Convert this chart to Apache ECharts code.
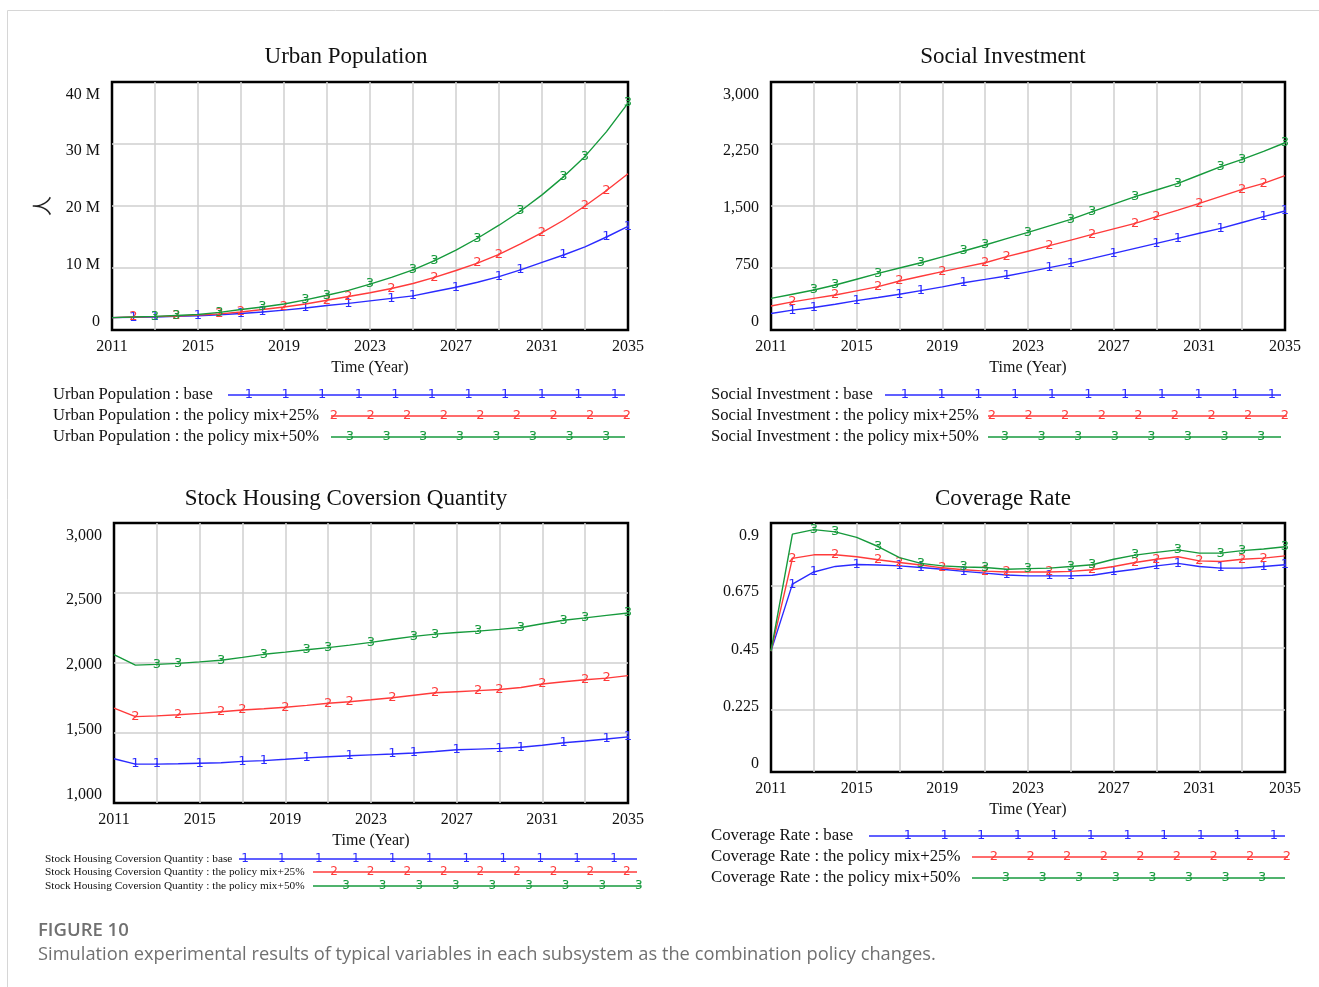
<!DOCTYPE html>
<html>
<head>
<meta charset="utf-8">
<script src="https://cdn.jsdelivr.net/npm/echarts@6/dist/echarts.min.js"></script>
<style>
  html, body { margin: 0; padding: 0; background: #fff; }
  #chart { width: 1319px; height: 987px; }
</style>
</head>
<body>
<div id="chart"></div>
<script>
// Simulation years
const years = [2011, 2012, 2013, 2014, 2015, 2016, 2017, 2018, 2019, 2020, 2021, 2022, 2023,
               2024, 2025, 2026, 2027, 2028, 2029, 2030, 2031, 2032, 2033, 2034, 2035];
const scenarios = ['base', 'the policy mix+25%', 'the policy mix+50%'];

// Urban Population (millions of people)
const urbanBase = [2.0, 2.05, 2.1, 2.2, 2.3, 2.45, 2.65, 2.9, 3.2, 3.55, 3.95, 4.3, 4.7,
                   5.1, 5.5, 6.2, 6.9, 7.7, 8.6, 9.7, 10.9, 12.1, 13.4, 15.0, 16.7];
const urbanMix25 = [2.0, 2.1, 2.15, 2.25, 2.4, 2.6, 2.9, 3.3, 3.7, 4.2, 4.8, 5.4, 6.0,
                    6.7, 7.5, 8.5, 9.6, 10.8, 12.2, 13.9, 15.7, 17.7, 20.0, 22.5, 25.2];
const urbanMix50 = [2.0, 2.1, 2.2, 2.35, 2.5, 2.85, 3.3, 3.7, 4.2, 4.85, 5.6, 6.4, 7.4,
                    8.5, 9.7, 11.2, 12.9, 14.8, 16.9, 19.2, 21.8, 24.7, 28.0, 32.0, 36.6];

// Social Investment
const investBase = [200, 240, 272, 312, 355, 393, 432, 476, 522, 572, 612, 653, 703,
                    754, 806, 866, 927, 988, 1048, 1109, 1170, 1230, 1300, 1371, 1440];
const investMix25 = [290, 340, 382, 423, 474, 524, 593, 650, 706, 760, 814, 887, 953,
                     1020, 1088, 1157, 1224, 1290, 1371, 1450, 1532, 1616, 1701, 1774, 1868];
const investMix50 = [383, 433, 484, 544, 614, 685, 750, 814, 885, 956, 1028, 1105, 1181,
                     1260, 1339, 1431, 1522, 1613, 1694, 1774, 1875, 1976, 2065, 2160, 2265];

// Stock Housing Coversion Quantity
const housingBase = [1316, 1278, 1278, 1280, 1284, 1288, 1297, 1303, 1312, 1322, 1330, 1338, 1344,
                     1350, 1357, 1368, 1380, 1385, 1390, 1398, 1412, 1430, 1443, 1457, 1472];
const housingMix25 = [1678, 1617, 1622, 1630, 1640, 1652, 1664, 1673, 1684, 1697, 1712, 1723, 1737,
                      1752, 1770, 1787, 1795, 1803, 1811, 1825, 1850, 1866, 1880, 1892, 1910];
const housingMix50 = [2060, 1985, 1990, 1997, 2008, 2020, 2040, 2062, 2078, 2095, 2110, 2128, 2147,
                      2170, 2190, 2206, 2218, 2228, 2240, 2254, 2280, 2305, 2322, 2340, 2357];

// Coverage Rate
const coverBase = [0.437, 0.679, 0.723, 0.743, 0.750, 0.748, 0.745, 0.739, 0.733, 0.725, 0.719, 0.712, 0.709,
                   0.709, 0.709, 0.711, 0.723, 0.733, 0.745, 0.754, 0.743, 0.737, 0.737, 0.743, 0.749];
const coverMix25 = [0.437, 0.772, 0.785, 0.785, 0.778, 0.767, 0.757, 0.748, 0.738, 0.731, 0.726, 0.723, 0.723,
                    0.723, 0.725, 0.731, 0.743, 0.757, 0.769, 0.778, 0.763, 0.761, 0.769, 0.773, 0.781];
const coverMix50 = [0.437, 0.860, 0.876, 0.868, 0.848, 0.815, 0.775, 0.754, 0.745, 0.741, 0.739, 0.733, 0.735,
                    0.737, 0.743, 0.749, 0.769, 0.784, 0.794, 0.803, 0.791, 0.791, 0.800, 0.806, 0.814];

// Years where each run carries its numbered marker
const markYearsBase = [2012, 2013, 2015, 2017, 2018, 2020, 2022, 2024, 2025, 2027, 2029, 2030, 2032, 2034, 2035];
const markYearsMix25 = [2012, 2014, 2016, 2017, 2019, 2021, 2022, 2024, 2026, 2028, 2029, 2031, 2033, 2034];
const markYearsMix50 = [2013, 2014, 2016, 2018, 2020, 2021, 2023, 2025, 2026, 2028, 2030, 2032, 2033, 2035];

// Axis ranges and tick steps
const urbanTicks = { min: 0, max: 40, step: 10 };
const investTicks = { min: 0, max: 3000, step: 750 };
const housingTicks = { min: 1000, max: 3000, step: 500 };
const coverTicks = { min: 0, max: 0.9, step: 0.225 };

const runColors = ['#2b2bff', '#ff3b3b', '#169a3c'];
const digits = ['1', '2', '3'];
const serif = '"Liberation Serif", "Times New Roman", serif';

const panels = [
  { title: 'Urban Population', runs: [urbanBase, urbanMix25, urbanMix50], ticks: urbanTicks,
    fmt: v => v === 0 ? '0' : v + ' M', unit: '人',
    grid: { left: 112, top: 82, width: 516, height: 248 } },
  { title: 'Social Investment', runs: [investBase, investMix25, investMix50], ticks: investTicks,
    fmt: v => v.toLocaleString('en-US'), unit: '',
    grid: { left: 771, top: 82, width: 514, height: 248 } },
  { title: 'Stock Housing Coversion Quantity', runs: [housingBase, housingMix25, housingMix50], ticks: housingTicks,
    fmt: v => v.toLocaleString('en-US'), unit: '',
    grid: { left: 114, top: 523, width: 514, height: 280 } },
  { title: 'Coverage Rate', runs: [coverBase, coverMix25, coverMix50], ticks: coverTicks,
    fmt: v => String(+v.toFixed(3)), unit: '',
    grid: { left: 771, top: 523, width: 514, height: 249 } }
];
const markYears = [markYearsBase, markYearsMix25, markYearsMix50];

// Rich styles that nudge y labels toward the middle of the axis
const yRich = {};
for (let n = 0; n <= 14; n++) {
  const base = { fontFamily: serif, fontSize: 16, color: '#111' };
  yRich['d' + n] = Object.assign({ padding: [2 * n, 0, 0, 0] }, base);
  yRich['u' + n] = Object.assign({ padding: [0, 0, 2 * n, 0] }, base);
}
function yLabel(p) {
  return v => {
    const f = (v - p.ticks.min) / (p.ticks.max - p.ticks.min);
    const s = Math.round(10.5 * (2 * f - 1)) + 2;
    return '{' + (s >= 0 ? 'd' : 'u') + Math.abs(s) + '|' + p.fmt(v) + '}';
  };
}

const gridLine = { show: true, showMinLine: false, showMaxLine: false,
                   lineStyle: { color: '#cfcfcf', width: 1.5 } };

const grids = [], xAxes = [], yAxes = [], series = [];
panels.forEach((p, gi) => {
  grids.push(Object.assign({ show: true, borderColor: '#000', borderWidth: 2.5, backgroundColor: '#fff' }, p.grid));
  xAxes.push({
    type: 'value', gridIndex: gi, min: 0, max: years[years.length - 1] - years[0], interval: 2,
    name: 'Time (Year)', nameLocation: 'middle', nameGap: 30,
    nameTextStyle: { fontFamily: serif, fontSize: 16, color: '#111' },
    axisLine: { show: false }, axisTick: { show: false },
    axisLabel: { margin: 9, fontFamily: serif, fontSize: 16, color: '#111',
                 formatter: v => (v % 4 === 0 ? String(years[0] + v) : '') },
    splitLine: gridLine
  });
  yAxes.push({
    type: 'value', gridIndex: gi, min: p.ticks.min, max: p.ticks.max, interval: p.ticks.step,
    name: p.unit, nameLocation: 'middle', nameGap: 60,
    nameTextStyle: { fontFamily: '"Noto Sans CJK SC", sans-serif', fontSize: 20, color: '#222' },
    axisLine: { show: false }, axisTick: { show: false },
    axisLabel: { margin: 12, formatter: yLabel(p), rich: yRich },
    splitLine: gridLine
  });
  p.runs.forEach((vals, ri) => {
    const color = runColors[ri];
    // run number centred on the curve
    const lbl = { show: true, position: ['50%', '50%'], align: 'center', verticalAlign: 'middle',
                  formatter: digits[ri], color, fontFamily: '"DejaVu Sans", sans-serif', fontSize: 13 };
    series.push({
      type: 'line', name: p.title + ' : ' + scenarios[ri], xAxisIndex: gi, yAxisIndex: gi,
      silent: true, animation: false, z: 3 + ri,
      lineStyle: { color, width: 1.4 }, itemStyle: { color },
      label: Object.assign({}, lbl, { show: false }),
      data: years.map((yr, i) => markYears[ri].includes(yr)
        ? { value: [yr - years[0], vals[i]], symbol: 'circle', symbolSize: 2, label: lbl }
        : { value: [yr - years[0], vals[i]], symbol: 'none' })
    });
  });
});

// Legend blocks drawn beneath each panel
const legendBlocks = [
  { x: 53, font: 16.6, digitFont: 13, rows: [
    { y: 395, line: [228, 625], m0: 249, step: 36.6 },
    { y: 416, line: [331, 628], m0: 334, step: 36.6 },
    { y: 437, line: [331, 625], m0: 350, step: 36.6 } ] },
  { x: 711, font: 16.6, digitFont: 13, rows: [
    { y: 395, line: [885, 1281], m0: 905, step: 36.7 },
    { y: 416, line: [988, 1287], m0: 992, step: 36.6 },
    { y: 437, line: [988, 1281], m0: 1005, step: 36.6 } ] },
  { x: 45, font: 11.3, digitFont: 12, rows: [
    { y: 859, line: [239, 637], m0: 245, step: 36.9 },
    { y: 872, line: [313, 637], m0: 334, step: 36.6 },
    { y: 886, line: [313, 641], m0: 346, step: 36.6 } ] },
  { x: 711, font: 16.8, digitFont: 13, rows: [
    { y: 836, line: [869, 1285], m0: 908, step: 36.6 },
    { y: 857, line: [972, 1288], m0: 994, step: 36.6 },
    { y: 878, line: [972, 1285], m0: 1006, step: 36.6 } ] }
];

const graphics = [];
graphics.push({ type: 'rect', shape: { x: 7.5, y: 10.5, width: 1400, height: 1000 },
                style: { fill: 'none', stroke: '#d6d6d6', lineWidth: 1 }, silent: true });
const titlePos = [[346, 57], [1003, 57], [346, 499], [1003, 499]];
panels.forEach((p, gi) => {
  graphics.push({ type: 'text', x: titlePos[gi][0], y: titlePos[gi][1], silent: true,
    style: { text: p.title, font: '23px ' + serif, fill: '#111',
             textAlign: 'center', textVerticalAlign: 'middle', align: 'center', verticalAlign: 'middle' } });
  const lb = legendBlocks[gi];
  lb.rows.forEach((r, ri) => {
    const color = runColors[ri];
    graphics.push({ type: 'text', x: lb.x, y: r.y, silent: true,
      style: { text: p.title + ' : ' + scenarios[ri], font: lb.font + 'px ' + serif, fill: '#111',
               textAlign: 'left', textVerticalAlign: 'middle', align: 'left', verticalAlign: 'middle' } });
    graphics.push({ type: 'line', silent: true, shape: { x1: r.line[0], y1: r.y, x2: r.line[1], y2: r.y },
                    style: { stroke: color, lineWidth: 1.5 } });
    for (let mx = r.m0; mx <= r.line[1] + 3; mx += r.step) {
      graphics.push({ type: 'text', x: mx, y: r.y, silent: true,
        style: { text: digits[ri], font: lb.digitFont + 'px "DejaVu Sans", sans-serif', fill: color,
                 textAlign: 'center', textVerticalAlign: 'middle', align: 'center', verticalAlign: 'middle' } });
    }
  });
});
graphics.push({ type: 'text', x: 38, y: 931, silent: true,
  style: { text: 'FIGURE 10', font: '600 18.5px "Open Sans", sans-serif', fill: '#707070',
           textAlign: 'left', textVerticalAlign: 'middle', align: 'left', verticalAlign: 'middle' } });
graphics.push({ type: 'text', x: 38, y: 955, silent: true,
  style: { text: 'Simulation experimental results of typical variables in each subsystem as the combination policy changes.',
           font: '18.3px "Open Sans", sans-serif', fill: '#707070',
           textAlign: 'left', textVerticalAlign: 'middle', align: 'left', verticalAlign: 'middle' } });

const chart = echarts.init(document.getElementById('chart'), null, { renderer: 'canvas' });
chart.setOption({
  backgroundColor: '#fff',
  animation: false,
  grid: grids,
  xAxis: xAxes,
  yAxis: yAxes,
  series: series,
  graphic: graphics
});
</script>
</body>
</html>
